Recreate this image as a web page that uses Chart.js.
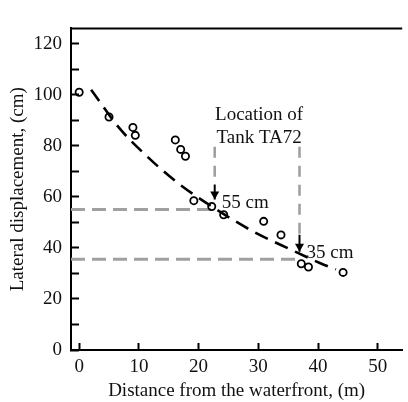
<!DOCTYPE html>
<html>
<head>
<meta charset="utf-8">
<script src="https://cdn.jsdelivr.net/npm/chart.js@4.4.1/dist/chart.umd.min.js"></script>
<style>
  html, body { margin: 0; padding: 0; background: #fff; }
  #wrap { width: 408px; height: 402px; }
</style>
</head>
<body>
<div id="wrap"><canvas id="dispChart"></canvas></div>
<script>
// observed lateral displacement vs distance from waterfront
var obsX = [0, 5, 9, 9.4, 16.1, 17, 17.8, 19.2, 22.2, 24.2, 30.9, 33.8, 37.2, 38.4, 44.2];
var obsY = [101, 91.3, 87.2, 84.1, 82.3, 78.6, 75.9, 58.5, 56.2, 53, 50.4, 45.1, 33.8, 32.5, 30.4];

// dashed trend line
var fitX = [2, 6.7, 11.3, 16.6, 22.7, 29.1, 35.3, 40.4, 43];
var fitY = [102, 87, 76, 65.3, 55.5, 46.5, 39.5, 34, 31.6];

// tank TA72 edges and the displacement there
var tankX = [22.7, 36.9];
var tankY = [55, 35.6];
var tankLabels = ['55 cm', '35 cm'];
var guideTop = 79.6;
var arrowFrom = [64.8, 45.2];
var arrowTo = [59, 38.5];

var xTicks = [0, 10, 20, 30, 40, 50];
var yTicks = [0, 10, 20, 30, 40, 50, 60, 70, 80, 90, 100, 110, 120];
var X_MIN = -1.37, X_MAX = 54.1, Y_MIN = 0, Y_MAX = 126;

var GREY = '#a0a0a0';
var INK = '#111';
var FONT_SIZE = 19;

function pts(xs, ys) {
    return xs.map(function (x, i) { return { x: x, y: ys[i] }; });
}

var datasets = [
    {
        data: pts(obsX, obsY),
        showLine: false,
        pointRadius: 3.6,
        pointBorderWidth: 1.8,
        pointBorderColor: '#000',
        pointBackgroundColor: 'rgba(0,0,0,0)'
    },
    {
        data: pts(fitX, fitY),
        showLine: true,
        borderColor: '#000',
        borderWidth: 2.6,
        borderDash: [14, 8],
        cubicInterpolationMode: 'monotone',
        pointRadius: 0
    }
];

tankX.forEach(function (tx, i) {
    // horizontal grey guide from the y axis
    datasets.push({
        data: [{ x: X_MIN, y: tankY[i] }, { x: tx, y: tankY[i] }],
        showLine: true, borderColor: GREY, borderWidth: 3, borderDash: [14, 7], pointRadius: 0
    });
    // vertical grey guide from the label down
    datasets.push({
        data: [{ x: tx, y: guideTop }, { x: tx, y: arrowFrom[i] }],
        showLine: true, borderColor: GREY, borderWidth: 2.6, borderDash: [11, 8], pointRadius: 0
    });
    // arrow shaft
    datasets.push({
        data: [{ x: tx, y: arrowFrom[i] }, { x: tx, y: arrowTo[i] }],
        showLine: true, borderColor: '#000', borderWidth: 2, pointRadius: 0
    });
});

var annotations = {
    id: 'annotations',
    afterDatasetsDraw: function (chart) {
        var ctx = chart.ctx, xs = chart.scales.x, ys = chart.scales.y, a = chart.chartArea;
        ctx.save();
        // top frame line
        ctx.strokeStyle = '#000';
        ctx.lineWidth = 2;
        ctx.beginPath();
        ctx.moveTo(a.left - 1, a.top);
        ctx.lineTo(a.right, a.top);
        ctx.stroke();

        // arrow heads
        ctx.fillStyle = '#000';
        tankX.forEach(function (tx, i) {
            var px = xs.getPixelForValue(tx), py = ys.getPixelForValue(arrowTo[i]);
            ctx.beginPath();
            ctx.moveTo(px, py);
            ctx.lineTo(px - 4.5, py - 8);
            ctx.lineTo(px + 4.5, py - 8);
            ctx.closePath();
            ctx.fill();
        });

        ctx.fillStyle = INK;
        ctx.font = FONT_SIZE + "px 'Liberation Serif', serif";
        ctx.textBaseline = 'alphabetic';
        ctx.textAlign = 'left';
        tankX.forEach(function (tx, i) {
            ctx.fillText(tankLabels[i], xs.getPixelForValue(tx) + 7, ys.getPixelForValue(tankY[i] + 0.5));
        });
        ctx.textAlign = 'center';
        var cx = (xs.getPixelForValue(tankX[0]) + xs.getPixelForValue(tankX[1])) / 2 + 2;
        ctx.fillText('Location of', cx, ys.getPixelForValue(90));
        ctx.fillText('Tank TA72', cx, ys.getPixelForValue(81));
        ctx.restore();
    }
};

Chart.defaults.font.family = "'Liberation Serif', serif";
Chart.defaults.font.size = FONT_SIZE;
Chart.defaults.color = INK;

new Chart(document.getElementById('dispChart').getContext('2d'), {
    type: 'scatter',
    data: { datasets: datasets },
    options: {
        responsive: true,
        maintainAspectRatio: false,
        animation: false,
        layout: { padding: { top: 10, right: 0, left: 0, bottom: 0 } },
        plugins: { legend: { display: false }, tooltip: { enabled: false } },
        scales: {
            x: {
                type: 'linear',
                min: X_MIN,
                max: X_MAX,
                afterBuildTicks: function (s) { s.ticks = xTicks.map(function (v) { return { value: v }; }); },
                afterFit: function (s) { s.height = 52; },
                ticks: { padding: 13, color: INK },
                grid: { drawOnChartArea: false, drawTicks: true, tickLength: -7, tickWidth: 2, tickColor: '#000' },
                border: { display: true, color: '#000', width: 2 },
                title: { display: true, text: 'Distance from the waterfront, (m)', color: INK, padding: { top: 0, bottom: 0 } }
            },
            y: {
                type: 'linear',
                min: Y_MIN,
                max: Y_MAX,
                afterBuildTicks: function (s) { s.ticks = yTicks.map(function (v) { return { value: v }; }); },
                afterFit: function (s) { s.width = 71; },
                ticks: {
                    padding: 17, color: INK,
                    callback: function (v) { return v % 20 === 0 ? String(v) : ''; }
                },
                grid: { drawOnChartArea: false, drawTicks: true, tickLength: -8, tickWidth: 2, tickColor: '#000' },
                border: { display: true, color: '#000', width: 2 },
                title: { display: true, text: 'Lateral displacement, (cm)', color: INK, padding: { top: 7, bottom: 0 } }
            }
        }
    },
    plugins: [annotations]
});
</script>
</body>
</html>
